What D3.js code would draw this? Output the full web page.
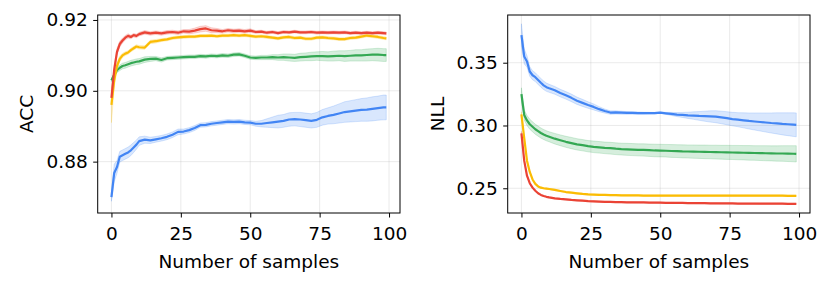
<!DOCTYPE html>
<html>
<head>
<meta charset="utf-8">
<script src="https://cdn.jsdelivr.net/npm/d3@7"></script>
<style>
html,body{margin:0;padding:0;background:#fff;}
svg{display:block;font-family:"DejaVu Sans",sans-serif;}
</style>
</head>
<body>
<svg id="chart" width="830" height="285"></svg>
<script>
// ---- data ----
const samples = [0,1,2,3,4,5,6,7,8,9,10,12,14,16,18,20,22,24,26,28,30,32,34,36,38,40,42,44,46,48,50,52,54,56,58,60,62,64,66,68,70,72,74,76,78,80,82,84,86,88,90,92,94,96,98,99];
const xTicks = [0,25,50,75,100];
const accTicks = [0.88,0.90,0.92];
const nllTicks = [0.25,0.30,0.35];
const seriesColors = ["#4285f4","#34a853","#fbbc04","#ea4335"];

// ACC panel
const accBlue = [0.8700,0.8768,0.8785,0.8814,0.8818,0.8822,0.8826,0.8832,0.8840,0.8848,0.8858,0.8862,0.8860,0.8863,0.8866,0.8870,0.8876,0.8884,0.8885,0.8889,0.8895,0.8903,0.8904,0.8907,0.8909,0.8911,0.8913,0.8912,0.8913,0.8911,0.8910,0.8907,0.8907,0.8909,0.8911,0.8913,0.8915,0.8919,0.8920,0.8919,0.8917,0.8915,0.8918,0.8925,0.8929,0.8932,0.8936,0.8940,0.8942,0.8944,0.8946,0.8947,0.8949,0.8951,0.8953,0.8953];
const accBlueErr = [0.0012,0.0025,0.0018,0.0015,0.0015,0.0015,0.0015,0.0015,0.0014,0.0013,0.0012,0.0010,0.0009,0.0008,0.0008,0.0008,0.0008,0.0008,0.0007,0.0007,0.0007,0.0006,0.0006,0.0006,0.0006,0.0006,0.0006,0.0006,0.0006,0.0006,0.0006,0.0007,0.0009,0.0012,0.0015,0.0018,0.0018,0.0019,0.0019,0.0020,0.0020,0.0020,0.0021,0.0022,0.0023,0.0025,0.0027,0.0029,0.0030,0.0031,0.0032,0.0033,0.0034,0.0034,0.0035,0.0035];
const accGreen = [0.9030,0.9045,0.9058,0.9065,0.9070,0.9072,0.9075,0.9078,0.9080,0.9082,0.9083,0.9088,0.9090,0.9091,0.9087,0.9092,0.9093,0.9094,0.9095,0.9096,0.9096,0.9098,0.9097,0.9099,0.9098,0.9100,0.9099,0.9102,0.9103,0.9099,0.9094,0.9093,0.9094,0.9094,0.9095,0.9094,0.9095,0.9094,0.9093,0.9095,0.9096,0.9097,0.9098,0.9098,0.9097,0.9098,0.9099,0.9098,0.9099,0.9100,0.9100,0.9101,0.9102,0.9102,0.9101,0.9101];
const accGreenErr = [0.0004,0.0006,0.0007,0.0008,0.0008,0.0008,0.0008,0.0008,0.0008,0.0008,0.0008,0.0008,0.0007,0.0006,0.0006,0.0005,0.0005,0.0005,0.0005,0.0005,0.0005,0.0005,0.0005,0.0005,0.0005,0.0005,0.0005,0.0005,0.0005,0.0005,0.0005,0.0005,0.0006,0.0006,0.0007,0.0008,0.0009,0.0010,0.0010,0.0011,0.0011,0.0012,0.0012,0.0013,0.0013,0.0014,0.0014,0.0015,0.0015,0.0016,0.0016,0.0017,0.0017,0.0018,0.0018,0.0018];
const accYellow = [0.8960,0.9030,0.9070,0.9090,0.9100,0.9105,0.9108,0.9115,0.9120,0.9125,0.9123,0.9122,0.9138,0.9140,0.9143,0.9145,0.9149,0.9151,0.9152,0.9153,0.9153,0.9155,0.9155,0.9156,0.9154,0.9156,0.9156,0.9157,0.9156,0.9157,0.9155,0.9153,0.9154,0.9152,0.9150,0.9148,0.9151,0.9152,0.9149,0.9150,0.9147,0.9147,0.9150,0.9151,0.9149,0.9148,0.9146,0.9146,0.9149,0.9150,0.9153,0.9156,0.9154,0.9152,0.9149,0.9148];
const accYellowErr = [0.0050,0.0020,0.0010,0.0008,0.0006,0.0005,0.0005,0.0005,0.0005,0.0005,0.0005,0.0005,0.0005,0.0005,0.0004,0.0004,0.0004,0.0004,0.0004,0.0004,0.0004,0.0004,0.0004,0.0004,0.0004,0.0004,0.0004,0.0004,0.0004,0.0004,0.0004,0.0004,0.0004,0.0004,0.0004,0.0004,0.0004,0.0004,0.0004,0.0004,0.0004,0.0004,0.0004,0.0004,0.0004,0.0004,0.0004,0.0004,0.0004,0.0004,0.0004,0.0004,0.0004,0.0004,0.0004,0.0004];
const accRed = [0.8980,0.9060,0.9110,0.9132,0.9142,0.9150,0.9155,0.9152,0.9157,0.9155,0.9160,0.9165,0.9162,0.9164,0.9162,0.9165,0.9166,0.9164,0.9168,0.9167,0.9170,0.9174,0.9176,0.9171,0.9170,0.9168,0.9171,0.9169,0.9170,0.9168,0.9170,0.9166,0.9167,0.9164,0.9166,0.9163,0.9166,0.9165,0.9167,0.9165,0.9165,0.9166,0.9164,0.9165,0.9164,0.9165,0.9164,0.9165,0.9163,0.9164,0.9163,0.9164,0.9163,0.9164,0.9163,0.9162];
const accRedErr = [0.0010,0.0012,0.0010,0.0008,0.0007,0.0006,0.0006,0.0005,0.0005,0.0005,0.0005,0.0005,0.0005,0.0005,0.0005,0.0005,0.0005,0.0005,0.0005,0.0006,0.0007,0.0008,0.0008,0.0007,0.0006,0.0005,0.0005,0.0005,0.0005,0.0005,0.0005,0.0004,0.0004,0.0004,0.0004,0.0004,0.0004,0.0004,0.0004,0.0004,0.0004,0.0004,0.0004,0.0004,0.0004,0.0004,0.0004,0.0004,0.0004,0.0004,0.0004,0.0004,0.0004,0.0004,0.0004,0.0004];

// NLL panel
const nllBlue = [0.3720,0.3550,0.3510,0.3430,0.3400,0.3385,0.3362,0.3340,0.3320,0.3305,0.3296,0.3280,0.3258,0.3240,0.3220,0.3197,0.3180,0.3163,0.3148,0.3130,0.3115,0.3103,0.3104,0.3102,0.3100,0.3100,0.3099,0.3098,0.3098,0.3098,0.3102,0.3097,0.3092,0.3087,0.3084,0.3081,0.3079,0.3076,0.3074,0.3072,0.3070,0.3064,0.3058,0.3051,0.3046,0.3041,0.3036,0.3032,0.3028,0.3024,0.3020,0.3017,0.3013,0.3010,0.3007,0.3005];
const nllBlueErr = [0.0090,0.0060,0.0045,0.0038,0.0036,0.0035,0.0035,0.0035,0.0034,0.0033,0.0032,0.0031,0.0030,0.0030,0.0030,0.0029,0.0028,0.0026,0.0024,0.0020,0.0016,0.0014,0.0013,0.0012,0.0011,0.0010,0.0009,0.0008,0.0007,0.0006,0.0005,0.0008,0.0012,0.0016,0.0020,0.0025,0.0030,0.0035,0.0040,0.0045,0.0048,0.0050,0.0052,0.0054,0.0056,0.0060,0.0064,0.0068,0.0072,0.0076,0.0080,0.0084,0.0088,0.0091,0.0094,0.0095];
const nllGreen = [0.3250,0.3084,0.3040,0.3010,0.2990,0.2970,0.2955,0.2940,0.2928,0.2918,0.2910,0.2895,0.2882,0.2870,0.2860,0.2850,0.2843,0.2835,0.2830,0.2826,0.2822,0.2819,0.2815,0.2812,0.2810,0.2808,0.2806,0.2805,0.2803,0.2801,0.2800,0.2799,0.2797,0.2796,0.2794,0.2793,0.2792,0.2791,0.2790,0.2789,0.2788,0.2787,0.2786,0.2785,0.2784,0.2783,0.2782,0.2781,0.2780,0.2779,0.2778,0.2777,0.2777,0.2776,0.2775,0.2774];
const nllGreenErr = [0.0050,0.0040,0.0040,0.0040,0.0040,0.0040,0.0040,0.0040,0.0040,0.0040,0.0040,0.0042,0.0043,0.0044,0.0045,0.0045,0.0045,0.0045,0.0046,0.0046,0.0046,0.0047,0.0047,0.0047,0.0048,0.0048,0.0048,0.0049,0.0049,0.0050,0.0050,0.0050,0.0051,0.0051,0.0052,0.0052,0.0053,0.0053,0.0054,0.0054,0.0055,0.0055,0.0056,0.0056,0.0057,0.0057,0.0058,0.0058,0.0059,0.0060,0.0060,0.0061,0.0062,0.0063,0.0064,0.0065];
const nllYellow = [0.3089,0.2900,0.2720,0.2630,0.2570,0.2535,0.2515,0.2505,0.2500,0.2497,0.2494,0.2487,0.2478,0.2470,0.2465,0.2460,0.2455,0.2452,0.2450,0.2448,0.2447,0.2446,0.2445,0.2444,0.2443,0.2443,0.2443,0.2442,0.2442,0.2442,0.2442,0.2442,0.2442,0.2442,0.2442,0.2442,0.2442,0.2442,0.2442,0.2442,0.2442,0.2442,0.2442,0.2442,0.2442,0.2442,0.2442,0.2441,0.2441,0.2441,0.2441,0.2441,0.2441,0.2440,0.2440,0.2440];
const nllYellowErr = [0.0020,0.0012,0.0008,0.0006,0.0005,0.0005,0.0005,0.0005,0.0005,0.0005,0.0005,0.0005,0.0005,0.0005,0.0005,0.0005,0.0005,0.0005,0.0005,0.0005,0.0005,0.0005,0.0005,0.0005,0.0005,0.0005,0.0005,0.0005,0.0005,0.0005,0.0005,0.0005,0.0005,0.0005,0.0005,0.0005,0.0005,0.0005,0.0005,0.0005,0.0005,0.0005,0.0005,0.0005,0.0005,0.0005,0.0005,0.0005,0.0005,0.0005,0.0005,0.0005,0.0005,0.0005,0.0005,0.0005];
const nllRed = [0.2938,0.2720,0.2600,0.2540,0.2505,0.2480,0.2460,0.2447,0.2438,0.2432,0.2427,0.2420,0.2415,0.2411,0.2407,0.2404,0.2401,0.2398,0.2396,0.2394,0.2392,0.2391,0.2390,0.2389,0.2388,0.2388,0.2387,0.2387,0.2386,0.2386,0.2385,0.2384,0.2384,0.2383,0.2383,0.2382,0.2382,0.2381,0.2381,0.2380,0.2380,0.2379,0.2379,0.2379,0.2378,0.2378,0.2378,0.2378,0.2377,0.2377,0.2377,0.2377,0.2377,0.2376,0.2376,0.2376];
const nllRedErr = [0.0015,0.0010,0.0007,0.0005,0.0005,0.0004,0.0004,0.0004,0.0004,0.0004,0.0004,0.0004,0.0004,0.0004,0.0004,0.0004,0.0004,0.0004,0.0004,0.0004,0.0004,0.0004,0.0004,0.0004,0.0004,0.0004,0.0004,0.0004,0.0004,0.0004,0.0004,0.0004,0.0004,0.0004,0.0004,0.0004,0.0004,0.0004,0.0004,0.0004,0.0004,0.0004,0.0004,0.0004,0.0004,0.0004,0.0004,0.0004,0.0004,0.0004,0.0004,0.0004,0.0004,0.0004,0.0004,0.0004];

// ---- drawing ----
const svg = d3.select("#chart");
const FS = 18.5;

function panel(opts){
  const {left,right,top,bottom,yDomain,yTicks,yFmt,yLabel,yLabelX,series,id} = opts;
  const x = d3.scaleLinear().domain([-4.95,103.95]).range([left,right]);
  const y = d3.scaleLinear().domain(yDomain).range([bottom,top]);
  const g = svg.append("g");
  // grid
  g.append("g").selectAll("line").data(xTicks).join("line")
    .attr("x1",d=>x(d)).attr("x2",d=>x(d)).attr("y1",top).attr("y2",bottom)
    .attr("stroke","#b0b0b0").attr("stroke-opacity",0.25).attr("stroke-width",1);
  g.append("g").selectAll("line").data(yTicks).join("line")
    .attr("y1",d=>y(d)).attr("y2",d=>y(d)).attr("x1",left).attr("x2",right)
    .attr("stroke","#b0b0b0").attr("stroke-opacity",0.25).attr("stroke-width",1);
  svg.append("clipPath").attr("id",id).append("rect")
    .attr("x",left).attr("y",top).attr("width",right-left).attr("height",bottom-top);
  const plot = g.append("g").attr("clip-path",`url(#${id})`);
  series.forEach(s=>{
    const pts = samples.map((xv,i)=>({x:xv,m:s.mean[i],e:s.err[i]}));
    plot.append("path").datum(pts)
      .attr("d",d3.area().x(d=>x(d.x)).y0(d=>y(d.m-d.e)).y1(d=>y(d.m+d.e)))
      .attr("fill",s.color).attr("fill-opacity",0.2)
      .attr("stroke",s.color).attr("stroke-opacity",0.2).attr("stroke-width",1);
  });
  series.forEach(s=>{
    const pts = samples.map((xv,i)=>({x:xv,m:s.mean[i]}));
    plot.append("path").datum(pts)
      .attr("d",d3.line().x(d=>x(d.x)).y(d=>y(d.m)))
      .attr("fill","none").attr("stroke",s.color).attr("stroke-width",2.2)
      .attr("stroke-linejoin","round");
  });
  // axes
  const ax = g.append("g").attr("transform",`translate(0,${bottom})`)
    .call(d3.axisBottom(x).tickValues(xTicks).tickSize(4.5).tickPadding(9).tickFormat(d3.format("d")));
  const ay = g.append("g").attr("transform",`translate(${left},0)`)
    .call(d3.axisLeft(y).tickValues(yTicks).tickSize(4.5).tickPadding(5.5).tickFormat(yFmt));
  [ax,ay].forEach(a=>{
    a.select(".domain").remove();
    a.selectAll("line").attr("stroke","#000").attr("stroke-width",1);
    a.selectAll("text").attr("font-size",FS).attr("font-family","DejaVu Sans").attr("fill","#000");
  });
  g.append("rect").attr("x",left).attr("y",top).attr("width",right-left).attr("height",bottom-top)
    .attr("fill","none").attr("stroke","#000").attr("stroke-width",1);
  g.append("text").attr("x",(left+right)/2).attr("y",268).attr("text-anchor","middle")
    .attr("font-size",FS).text("Number of samples");
  g.append("text").attr("transform",`translate(${yLabelX},${(top+bottom)/2}) rotate(-90)`)
    .attr("text-anchor","middle").attr("font-size",FS).text(yLabel);
}

panel({id:"clipL",left:97.7,right:400,top:15,bottom:213,yDomain:[0.8655,0.9214],yTicks:accTicks,
  yFmt:d3.format(".2f"),yLabel:"ACC",yLabelX:33,
  series:[
    {mean:accBlue,err:accBlueErr,color:seriesColors[0]},
    {mean:accGreen,err:accGreenErr,color:seriesColors[1]},
    {mean:accYellow,err:accYellowErr,color:seriesColors[2]},
    {mean:accRed,err:accRedErr,color:seriesColors[3]}]});
panel({id:"clipR",left:507.7,right:810,top:15,bottom:213,yDomain:[0.2303,0.388],yTicks:nllTicks,
  yFmt:d3.format(".2f"),yLabel:"NLL",yLabelX:444,
  series:[
    {mean:nllBlue,err:nllBlueErr,color:seriesColors[0]},
    {mean:nllGreen,err:nllGreenErr,color:seriesColors[1]},
    {mean:nllYellow,err:nllYellowErr,color:seriesColors[2]},
    {mean:nllRed,err:nllRedErr,color:seriesColors[3]}]});
</script>
</body>
</html>
